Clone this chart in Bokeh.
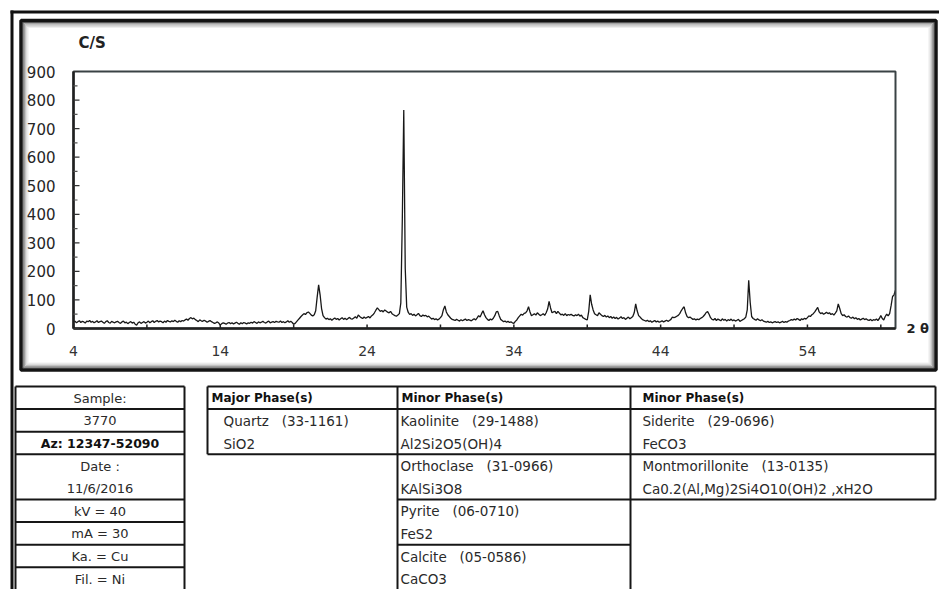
from bokeh.plotting import figure
from bokeh.models import Range1d
from bokeh.core.properties import value
from bokeh.embed import file_html
from bokeh.resources import INLINE

# ---------------- data ----------------
# XRD counts (c/s) read from the pattern, 2-theta from 4.0 to 60.0 in 0.1 deg steps
counts = [
    22, 26, 20, 24, 27, 21, 25, 23, 19, 26,   # 4
    24, 28, 22, 25, 20, 23, 27, 21, 24, 26,   # 5
    22, 18, 24, 27, 21, 19, 25, 22, 20, 23,   # 6
    25, 21, 18, 23, 26, 20, 22, 17, 21, 24,   # 7
    19, 22, 15, 12, 20, 23, 18, 21, 24, 19,   # 8
    22, 26, 20, 24, 27, 21, 25, 28, 23, 26,   # 9
    24, 20, 26, 22, 28, 25, 23, 27, 24, 29,   # 10
    25, 22, 27, 24, 28, 26, 30, 33, 29, 35,   # 11
    38, 34, 36, 31, 28, 24, 30, 27, 25, 29,   # 12
    26, 22, 25, 28, 24, 21, 18, 20, 23, 19,   # 13
    12, 17, 20, 18, 15, 19, 21, 17, 20, 16,   # 14
    19, 22, 18, 15, 20, 17, 21, 19, 16, 20,   # 15
    18, 22, 19, 24, 21, 18, 23, 20, 22, 25,   # 16
    21, 19, 23, 26, 20, 22, 24, 21, 25, 23,   # 17
    22, 26, 21, 24, 20, 23, 27, 22, 25, 21,   # 18
    15, 18, 24, 30, 36, 42, 47, 52, 49, 55,   # 19
    58, 53, 47, 44, 48, 62, 110, 153, 118, 70,  # 20
    45, 38, 33, 36, 31, 34, 29, 33, 37, 32,   # 21
    35, 30, 34, 38, 32, 36, 31, 35, 39, 34,   # 22
    33, 37, 41, 36, 47, 42, 38, 35, 40, 36,   # 23
    39, 42, 37, 44, 48, 55, 64, 72, 66, 60,   # 24
    63, 58, 65, 61, 57, 55, 60, 52, 48, 45,   # 25
    43, 47, 52, 90, 380, 765, 210, 75, 57, 49,  # 26
    52, 46, 50, 44, 48, 53, 45, 42, 47, 44,   # 27
    46, 41, 43, 38, 33, 36, 31, 34, 30, 33,   # 28
    38, 45, 66, 79, 58, 48, 42, 36, 32, 30,   # 29
    28, 32, 29, 26, 31, 27, 30, 33, 28, 31,   # 30
    29, 27, 31, 34, 30, 37, 45, 40, 52, 62,   # 31
    48, 38, 32, 28, 33, 30, 36, 45, 58, 60,   # 32
    45, 32, 28, 24, 26, 22, 25, 21, 23, 20,   # 33
    18, 25, 30, 38, 44, 50, 47, 53, 55, 62,   # 34
    76, 58, 45, 48, 52, 47, 55, 50, 45, 48,   # 35
    52, 46, 55, 68, 95, 72, 55, 58, 60, 52,   # 36
    60, 54, 48, 50, 46, 52, 45, 49, 47, 50,   # 37
    46, 44, 48, 45, 50, 43, 47, 38, 35, 32,   # 38
    30, 60, 118, 85, 65, 52, 48, 45, 55, 50,  # 39
    45, 42, 46, 40, 44, 38, 42, 36, 40, 35,   # 40
    39, 33, 37, 41, 35, 38, 32, 36, 40, 34,   # 41
    38, 42, 55, 86, 62, 45, 40, 34, 30, 28,   # 42
    26, 29, 24, 27, 22, 25, 28, 23, 26, 22,   # 43
    24, 27, 23, 26, 29, 25, 28, 32, 40, 38,   # 44
    40, 43, 46, 52, 62, 70, 76, 55, 42, 38,   # 45
    40, 36, 32, 34, 30, 33, 31, 35, 38, 42,   # 46
    48, 56, 59, 50, 38, 32, 30, 35, 28, 33,   # 47
    30, 27, 34, 29, 32, 26, 31, 28, 33, 27,   # 48
    30, 26, 29, 32, 25, 28, 31, 34, 40, 65,   # 49
    169, 92, 42, 35, 32, 29, 34, 30, 27, 31,  # 50
    26, 24, 22, 25, 21, 23, 20, 22, 24, 21,   # 51
    23, 20, 22, 25, 21, 24, 22, 26, 28, 31,   # 52
    29, 33, 30, 35, 32, 28, 34, 31, 36, 33,   # 53
    38, 44, 42, 48, 52, 58, 66, 74, 58, 52,   # 54
    55, 50, 53, 57, 52, 55, 49, 52, 47, 54,   # 55
    62, 86, 70, 52, 45, 48, 42, 40, 44, 38,   # 56
    36, 40, 34, 38, 32, 35, 30, 33, 36, 31,   # 57
    34, 30, 28, 32, 27, 31, 29, 33, 28, 35,   # 58
    45, 35, 30, 42, 50, 44, 52, 80, 112, 118,  # 59
    134,                                      # 60
]
two_theta = [round(4 + 0.1 * i, 1) for i in range(len(counts))]

x_tick_values = [4, 14, 24, 34, 44, 54]
x_minor_ticks = [9, 19, 29, 39, 49, 59]
y_tick_values = [0, 100, 200, 300, 400, 500, 600, 700, 800, 900]
y_minor_ticks = [50, 150, 250, 350, 450, 550, 650, 750, 850]
X_MIN, X_MAX = 4, 60
Y_MIN, Y_MAX = 0, 900

sample_info = ["Sample:", "3770", "Az: 12347-52090", "Date :", "11/6/2016",
               "kV = 40", "mA = 30", "Ka. = Cu", "Fil. = Ni"]
major_names = ["Quartz"]
major_codes = ["(33-1161)"]
major_formulas = ["SiO2"]
minor1_names = ["Kaolinite", "Orthoclase", "Pyrite", "Calcite"]
minor1_codes = ["(29-1488)", "(31-0966)", "(06-0710)", "(05-0586)"]
minor1_formulas = ["Al2Si2O5(OH)4", "KAlSi3O8", "FeS2", "CaCO3"]
minor2_names = ["Siderite", "Montmorillonite"]
minor2_codes = ["(29-0696)", "(13-0135)"]
minor2_formulas = ["FeCO3", "Ca0.2(Al,Mg)2Si4O10(OH)2 ,xH2O"]

# ---------------- page geometry (pixels, y grows downward) ----------------
W, H = 939, 589
PAGE_L, PAGE_T = 0, 0
PAGE_R, PAGE_B = PAGE_L + W, PAGE_T + H
FRAME_L, FRAME_R, FRAME_T, FRAME_B = 73, 895, 71, 328
FONT = "DejaVu Sans"
LINE = "#161616"

f = figure(width=W, height=H, x_range=Range1d(PAGE_L, PAGE_R), y_range=Range1d(PAGE_B, PAGE_T),
           x_axis_type=None, y_axis_type=None, min_border=0, min_border_left=0,
           min_border_right=0, min_border_top=0, min_border_bottom=0,
           outline_line_color=None, background_fill_color="white", border_fill_color="white",
           output_backend="svg", toolbar_location=None)

# outer frame: top and left rules
f.segment(x0=[10, 11.5], y0=[11.5, 10], x1=[PAGE_R + 2, 11.5], y1=[11.5, PAGE_B + 2],
          line_color="#111111", line_width=3)

# chart panel with a soft inner shadow
PAN_L, PAN_R, PAN_T, PAN_B = 20.5, 935.5, 20, 369.5
shade = ["#efefef", "#dcdcdc", "#c2c2c2", "#9f9f9f", "#6e6e6e", "#141414"]
offs = [7.0, 5.8, 4.6, 3.4, 2.2, 0.0]
wids = [1.2, 1.2, 1.2, 1.2, 1.2, 3.5]
for c, o, w in zip(shade, offs, wids):
    f.quad(left=[PAN_L + o], right=[PAN_R - o], top=[PAN_T + o], bottom=[PAN_B - o],
           fill_color=None, line_color=c, line_width=w)

# ---------------- diffractogram, mapped into the plot rectangle ----------------
s = f.subplot(x_source=Range1d(X_MIN, X_MAX), y_source=Range1d(Y_MIN, Y_MAX),
              x_target=Range1d(FRAME_L, FRAME_R), y_target=Range1d(FRAME_B, FRAME_T))

PX_PER_X = (FRAME_R - FRAME_L) / (X_MAX - X_MIN)
PX_PER_Y = (FRAME_B - FRAME_T) / (Y_MAX - Y_MIN)

s.line(two_theta, counts, line_color="#181818", line_width=1.3)

# plot box
s.quad(left=[X_MIN], right=[X_MAX], bottom=[Y_MIN], top=[Y_MAX], fill_color=None,
       line_color="#3a4245", line_width=2)
# axis lines
s.segment(x0=[X_MIN, X_MIN], y0=[Y_MIN, Y_MIN], x1=[X_MAX, X_MIN], y1=[Y_MIN, Y_MAX],
          line_color="#202020", line_width=2.5)

# x ticks (inward)
xt = x_tick_values + x_minor_ticks
s.segment(x0=xt, y0=[Y_MIN] * len(xt), x1=xt, y1=[Y_MIN + 4 / PX_PER_Y] * len(xt),
          line_color="#222222", line_width=1.5)
# y ticks (inward): major longer than minor
s.segment(x0=[X_MIN] * len(y_tick_values), y0=y_tick_values,
          x1=[X_MIN + 6 / PX_PER_X] * len(y_tick_values), y1=y_tick_values,
          line_color="#333333", line_width=1.2)
s.segment(x0=[X_MIN] * len(y_minor_ticks), y0=y_minor_ticks,
          x1=[X_MIN + 4 / PX_PER_X] * len(y_minor_ticks), y1=y_minor_ticks,
          line_color="#555555", line_width=1.2)

# tick labels
s.text(x=x_tick_values, y=[Y_MIN] * len(x_tick_values), text=[str(v) for v in x_tick_values],
       y_offset=22, text_font=value(FONT), text_font_size="14px", text_color="#333333",
       text_align="center", text_baseline="middle")
s.text(x=[X_MIN] * len(y_tick_values), y=y_tick_values, text=[str(v) for v in y_tick_values],
       x_offset=-18, text_font=value(FONT), text_font_size="15px", text_color="#262626",
       text_align="right", text_baseline="middle")

# axis titles
s.text(x=[X_MIN], y=[Y_MAX], text=["C/S"], x_offset=5, y_offset=-29, text_font=value(FONT),
       text_font_size="15px", text_font_style="bold", text_color="#222222",
       text_align="left", text_baseline="middle")
s.text(x=[X_MAX], y=[Y_MIN], text=["2 θ"], x_offset=11, y_offset=0, text_font=value(FONT),
       text_font_size="13px", text_font_style="bold", text_color="#222222",
       text_align="left", text_baseline="middle")

# ---------------- sample / phase tables ----------------
TABLE_TOP, ROW = 386, 22.6


def row_edge(k):
    return TABLE_TOP + k * ROW


def row_mid(k):
    return TABLE_TOP + (k + 0.5) * ROW + 0.5


# sample table
L_L, L_R = 15, 184
edges = [row_edge(k) for k in [0, 1, 2, 3, 5, 6, 7, 8]]
f.segment(x0=[L_L] * len(edges), y0=edges, x1=[L_R] * len(edges), y1=edges,
          line_color=LINE, line_width=2)
f.segment(x0=[L_L, L_R], y0=[TABLE_TOP] * 2, x1=[L_L, L_R], y1=[PAGE_B + 2] * 2,
          line_color=LINE, line_width=2)
plain = [i for i in range(len(sample_info)) if i != 2]
f.text(x=[(L_L + L_R) / 2] * len(plain), y=[row_mid(i) for i in plain],
       text=[sample_info[i] for i in plain], text_font=value(FONT), text_font_size="13px",
       text_color="#2a2a2a", text_align="center", text_baseline="middle")
f.text(x=[(L_L + L_R) / 2], y=[row_mid(2)], text=[sample_info[2]], text_font=value(FONT),
       text_font_size="12.5px", text_font_style="bold", text_color="#111111",
       text_align="center", text_baseline="middle")

# phase tables
MAJ_L, MIN1_L, MIN2_L, MIN2_R = 207, 397, 630, 935
f.segment(x0=[MAJ_L, MAJ_L], y0=[row_edge(0), row_edge(1)], x1=[MIN2_R, MIN2_R],
          y1=[row_edge(0), row_edge(1)], line_color=LINE, line_width=2)
f.segment(x0=[MAJ_L, MIN1_L, MIN2_L, MIN2_R], y0=[row_edge(0)] * 4,
          x1=[MAJ_L, MIN1_L, MIN2_L, MIN2_R],
          y1=[row_edge(3), PAGE_B + 2, PAGE_B + 2, row_edge(5)],
          line_color=LINE, line_width=2)
sep_x0 = [MAJ_L, MIN1_L, MIN1_L, MIN1_L, MIN2_L, MIN2_L]
sep_x1 = [MIN1_L, MIN2_L, MIN2_L, MIN2_L, MIN2_R, MIN2_R]
sep_y = [row_edge(3), row_edge(3), row_edge(5), row_edge(7), row_edge(3), row_edge(5)]
f.segment(x0=sep_x0, y0=sep_y, x1=sep_x1, y1=sep_y, line_color=LINE, line_width=2)

f.text(x=[MAJ_L + 4, MIN1_L + 4, MIN2_L + 12], y=[row_mid(0)] * 3,
       text=["Major Phase(s)", "Minor Phase(s)", "Minor Phase(s)"], text_font=value(FONT),
       text_font_size="12px", text_font_style="bold", text_color="#111111",
       text_align="left", text_baseline="middle")

SP = "\u00a0\u00a0\u00a0"


def phase_text(x_left, names, codes, formulas):
    xs, ys, txt = [], [], []
    for g, (n, c, fm) in enumerate(zip(names, codes, formulas)):
        xs += [x_left, x_left]
        ys += [row_mid(1 + 2 * g), row_mid(2 + 2 * g)]
        txt += [n + SP + c, fm]
    f.text(x=xs, y=ys, text=txt, text_font=value(FONT), text_font_size="13.5px",
           text_color="#2a2a2a", text_align="left", text_baseline="middle")


phase_text(MAJ_L + 16, major_names, major_codes, major_formulas)
phase_text(MIN1_L + 3, minor1_names, minor1_codes, minor1_formulas)
phase_text(MIN2_L + 12, minor2_names, minor2_codes, minor2_formulas)

open("out.html", "w").write(file_html(f, INLINE))
